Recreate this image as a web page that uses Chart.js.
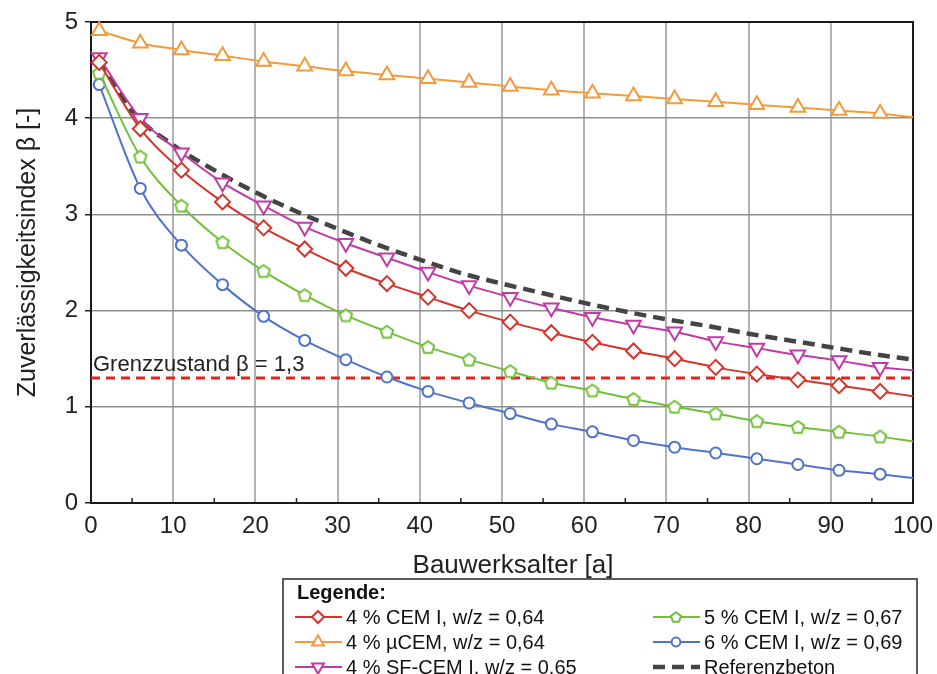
<!DOCTYPE html>
<html>
<head>
<meta charset="utf-8">
<script src="https://cdn.jsdelivr.net/npm/chart.js@4.4.1/dist/chart.umd.min.js"></script>
<style>
html, body { margin: 0; padding: 0; background: #fff; }
#wrap { width: 937px; height: 674px; }
</style>
</head>
<body>
<div id="wrap"><canvas id="chart" width="937" height="674"></canvas></div>
<script>
// Bauwerksalter [a] at the markers
const years = [1, 6, 11, 16, 21, 26, 31, 36, 41, 46, 51, 56, 61, 66, 71, 76, 81, 86, 91, 96, 100];
const cem4 = [4.58, 3.89, 3.46, 3.13, 2.86, 2.64, 2.44, 2.28, 2.14, 2.00, 1.88, 1.77, 1.67, 1.58, 1.50, 1.41, 1.34, 1.28, 1.22, 1.16, 1.11];
const microCem4 = [4.91, 4.78, 4.71, 4.65, 4.59, 4.54, 4.49, 4.45, 4.41, 4.37, 4.33, 4.29, 4.26, 4.23, 4.20, 4.17, 4.14, 4.11, 4.08, 4.05, 4.01];
const sfCem4 = [4.63, 4.00, 3.64, 3.33, 3.09, 2.87, 2.70, 2.55, 2.40, 2.26, 2.14, 2.03, 1.93, 1.85, 1.78, 1.68, 1.61, 1.54, 1.48, 1.41, 1.38];
const cem5 = [4.47, 3.60, 3.09, 2.71, 2.41, 2.16, 1.95, 1.78, 1.62, 1.49, 1.37, 1.25, 1.17, 1.08, 1.00, 0.93, 0.85, 0.79, 0.74, 0.69, 0.64];
const cem6 = [4.35, 3.27, 2.68, 2.27, 1.94, 1.69, 1.49, 1.31, 1.16, 1.04, 0.93, 0.82, 0.74, 0.65, 0.58, 0.52, 0.46, 0.40, 0.34, 0.30, 0.26];

const refYears = [1, 5, 10, 15, 20, 25, 30, 35, 40, 45, 50, 55, 60, 65, 70, 75, 80, 85, 90, 95, 100];
const referenz = [4.60, 4.07, 3.72, 3.46, 3.23, 3.03, 2.85, 2.68, 2.53, 2.39, 2.28, 2.18, 2.08, 1.99, 1.91, 1.84, 1.76, 1.69, 1.62, 1.55, 1.49];

const limitYears = [0, 100];
const limitBeta = [1.3, 1.3];
const limitLabel = 'Grenzzustand \u03b2 = 1,3';

const seriesLabels = [
    '4 % CEM I, w/z = 0,64',
    '4 % \u00b5CEM, w/z = 0,64',
    '4 % SF-CEM I, w/z = 0,65',
    '5 % CEM I, w/z = 0,67',
    '6 % CEM I, w/z = 0,69',
    'Referenzbeton'
];
// legend columns, as dataset indexes
const legendColumns = [[0, 1, 2], [3, 4, 5]];

const FONT = '"Liberation Sans", Arial, Helvetica, sans-serif';
Chart.defaults.font.family = FONT;
Chart.defaults.color = '#222';

function pts(xs, ys) {
    return xs.map((x, i) => ({ x: x, y: ys[i] }));
}

function pentagon(r, color) {
    const c = document.createElement('canvas');
    const s = Math.ceil(2 * r + 5);
    c.width = s; c.height = s;
    const g = c.getContext('2d');
    g.beginPath();
    for (let i = 0; i < 5; i++) {
        const a = -Math.PI / 2 + i * 2 * Math.PI / 5;
        const px = s / 2 + r * Math.cos(a), py = s / 2 + 0.5 + r * Math.sin(a);
        if (i) g.lineTo(px, py); else g.moveTo(px, py);
    }
    g.closePath();
    g.fillStyle = '#fff';
    g.fill();
    g.lineWidth = 2;
    g.strokeStyle = color;
    g.stroke();
    return c;
}

function series(label, ys, color, style, radius, rotation) {
    return {
        label: label,
        data: pts(years, ys),
        borderColor: color,
        backgroundColor: '#fff',
        borderWidth: 2,
        pointStyle: style,
        pointRotation: rotation || 0,
        pointBorderColor: color,
        pointBackgroundColor: '#fff',
        pointBorderWidth: 2,
        pointRadius: ctx => ctx.dataIndex === years.length - 1 ? 0 : radius,
        legendRadius: radius * 0.8,
        cubicInterpolationMode: 'monotone',
        clip: false,
        order: 1
    };
}

const green = '#72c03a';

const datasets = [
    series(seriesLabels[0], cem4, '#d6332a', 'rectRot', 7.5),
    series(seriesLabels[1], microCem4, '#f39a3c', 'triangle', 8.5),
    series(seriesLabels[2], sfCem4, '#c23aa5', 'triangle', 8.5, 180),
    series(seriesLabels[3], cem5, green, pentagon(6.5, green), 6.5),
    series(seriesLabels[4], cem6, '#4f73c8', 'circle', 5.5),
    {
        label: seriesLabels[5],
        data: pts(refYears, referenz),
        borderColor: '#444',
        borderWidth: 4.5,
        borderDash: [12, 7],
        pointRadius: 0,
        cubicInterpolationMode: 'monotone',
        clip: false,
        order: 2
    },
    {
        label: limitLabel,
        data: pts(limitYears, limitBeta),
        borderColor: '#e0261b',
        borderWidth: 3,
        borderDash: [9, 6],
        pointRadius: 0,
        clip: false,
        order: 3
    }
];

const decor = {
    id: 'decor',
    beforeDatasetsDraw(chart) {
        const ctx = chart.ctx, a = chart.chartArea, xs = chart.scales.x;
        ctx.save();
        // minor ticks pointing inward
        ctx.strokeStyle = '#222';
        ctx.lineWidth = 1.5;
        for (let v = 5; v < 100; v += 10) {
            const px = xs.getPixelForValue(v);
            ctx.beginPath();
            ctx.moveTo(px, a.bottom);
            ctx.lineTo(px, a.bottom - 5);
            ctx.stroke();
        }
        ctx.strokeStyle = '#1a1a1a';
        ctx.lineWidth = 2;
        ctx.strokeRect(a.left, a.top, a.right - a.left, a.bottom - a.top);
        // limit label
        const ys = chart.scales.y;
        ctx.font = '22px ' + FONT;
        ctx.fillStyle = '#222';
        ctx.textBaseline = 'alphabetic';
        ctx.fillText(limitLabel, xs.getPixelForValue(0) + 2, ys.getPixelForValue(limitBeta[0]) - 7);
        ctx.restore();
    },
    afterDraw(chart) {
        const ctx = chart.ctx, a = chart.chartArea;
        ctx.save();
        ctx.fillStyle = '#222';
        ctx.textAlign = 'center';
        ctx.textBaseline = 'middle';
        ctx.font = '26px ' + FONT;
        ctx.fillText('Bauwerksalter [a]', (a.left + a.right) / 2 + 11, a.bottom + 63);
        ctx.save();
        ctx.translate(28, (a.top + a.bottom) / 2 - 10);
        ctx.rotate(-Math.PI / 2);
        ctx.font = '25px ' + FONT;
        ctx.fillText('Zuverl\u00e4ssigkeitsindex \u03b2 [-]', 0, 0);
        ctx.restore();

        // legend box
        ctx.strokeStyle = '#5a5a5a';
        ctx.lineWidth = 2;
        ctx.strokeRect(283, 579, 634, 120);
        ctx.textAlign = 'left';
        ctx.font = 'bold 20px ' + FONT;
        ctx.fillStyle = '#111';
        ctx.fillText('Legende:', 297, 593);
        ctx.font = '20px ' + FONT;
        legendColumns.forEach((col, ci) => {
            const x0 = ci === 0 ? 295 : 653;
            col.forEach((di, ri) => {
                const ds = chart.data.datasets[di];
                const y = 617 + ri * 25;
                ctx.strokeStyle = ds.borderColor;
                ctx.lineWidth = ds.borderWidth;
                ctx.setLineDash(ds.borderDash || []);
                ctx.beginPath();
                ctx.moveTo(x0, y);
                ctx.lineTo(x0 + 47, y);
                ctx.stroke();
                ctx.setLineDash([]);
                if (ds.pointStyle) {
                    let style = ds.pointStyle;
                    if (typeof style !== 'string') style = pentagon(ds.legendRadius, ds.borderColor);
                    ctx.fillStyle = '#fff';
                    ctx.strokeStyle = ds.borderColor;
                    ctx.lineWidth = 2;
                    Chart.helpers.drawPoint(ctx, {
                        pointStyle: style,
                        rotation: ds.pointRotation,
                        radius: ds.legendRadius,
                        borderWidth: 2
                    }, x0 + 23, y);
                }
                ctx.fillStyle = '#111';
                ctx.fillText(ds.label, x0 + 51, y + 1);
            });
        });
        ctx.restore();
    }
};

new Chart(document.getElementById('chart'), {
    type: 'line',
    data: { datasets: datasets },
    options: {
        responsive: false,
        animation: false,
        events: [],
        layout: { padding: { top: 22, right: 24, left: 0, bottom: 0 } },
        plugins: {
            legend: { display: false },
            tooltip: { enabled: false }
        },
        scales: {
            x: {
                type: 'linear',
                min: 0,
                max: 100,
                afterFit: s => { s.height = 171; s.paddingLeft = 0; s.paddingRight = 0; },
                border: { display: false },
                grid: {
                    drawTicks: false,
                    lineWidth: 2,
                    color: ctx => ctx.tick && ctx.tick.value % 10 === 0 ? '#b3b3b3' : 'rgba(0,0,0,0)'
                },
                ticks: {
                    stepSize: 5,
                    autoSkip: false,
                    maxRotation: 0,
                    padding: 9,
                    font: { size: 24 },
                    color: '#222',
                    callback: v => v % 10 === 0 ? v : ''
                }
            },
            y: {
                min: 0,
                max: 5,
                afterFit: s => { s.width = 91; s.paddingTop = 0; s.paddingBottom = 0; },
                border: { display: false },
                grid: {
                    lineWidth: 1.5,
                    color: '#8f8f8f',
                    tickLength: 6,
                    tickColor: '#222'
                },
                ticks: {
                    stepSize: 1,
                    padding: 7,
                    font: { size: 24 },
                    color: '#222'
                }
            }
        }
    },
    plugins: [decor]
});
</script>
</body>
</html>
